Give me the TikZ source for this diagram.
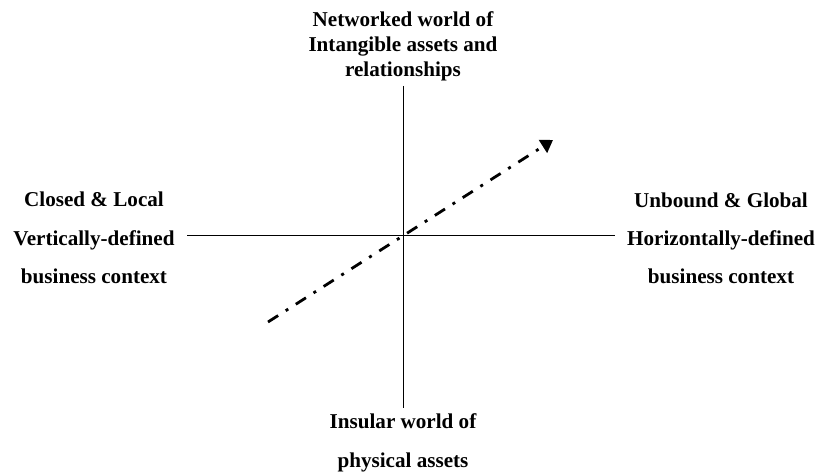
\documentclass[tikz,border=0pt]{standalone}
\usepackage{fontspec}
\setmainfont{Liberation Serif}
\usetikzlibrary{arrows.meta}
\begin{document}
\begin{tikzpicture}[x=1bp,y=-1bp,
  lbl/.style={align=center,inner sep=0pt,font=\bfseries\fontsize{21.2}{#1}\selectfont},
  axis/.style={line width=0.9bp,black},
  trend/.style={line width=2.8bp,dash pattern=on 12bp off 9bp on 3bp off 9bp,-{Triangle[length=12bp,width=15bp]}}]
\useasboundingbox (0,0) rectangle (818,474);
\coordinate (vt) at (403,86);
\coordinate (vb) at (403,408);
\coordinate (hl) at (187,235);
\coordinate (hr) at (615,235);
\coordinate (as) at (268,322);
\coordinate (ae) at (553,140);
\draw[axis] (vt) -- (vb);
\draw[axis] (hl) -- (hr);
\draw[trend] (as) -- (ae);
\node[lbl=25bp] (top) at (403,46) {Networked world of\\Intangible assets and\\relationships};
\node[lbl=38.5bp] (left) at (94,238) {Closed \& Local\\Vertically-defined\\business context};
\node[lbl=38bp] (right) at (721,238) {Unbound \& Global\\Horizontally-defined\\business context};
\node[lbl=39bp] (bottom) at (403,443) {Insular world of\\physical assets};
\end{tikzpicture}
\end{document}
